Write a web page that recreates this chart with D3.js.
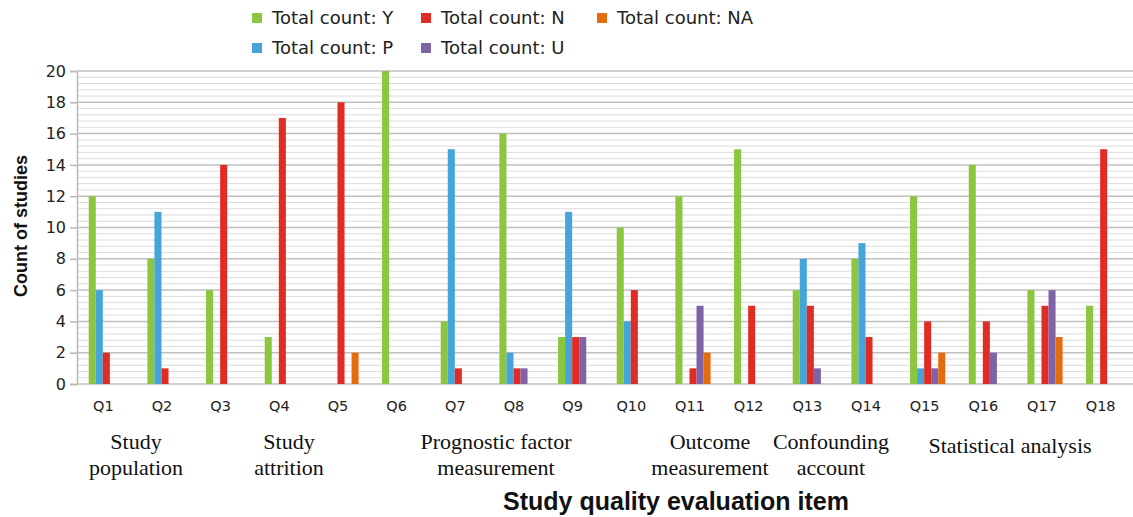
<!DOCTYPE html>
<html><head><meta charset="utf-8">
<script src="https://cdn.jsdelivr.net/npm/d3@7"></script>
<style>body{margin:0;background:#fff}svg{display:block}</style>
</head><body>
<script>
const categories = ["Q1","Q2","Q3","Q4","Q5","Q6","Q7","Q8","Q9","Q10","Q11","Q12","Q13","Q14","Q15","Q16","Q17","Q18"];
const seriesNames = ["Total count: Y","Total count: P","Total count: N","Total count: U","Total count: NA"];
const countY  = [12, 8, 6, 3, 0,20, 4,16, 3,10,12,15, 6, 8,12,14, 6, 5];
const countP  = [ 6,11, 0, 0, 0, 0,15, 2,11, 4, 0, 0, 8, 9, 1, 0, 0, 0];
const countN  = [ 2, 1,14,17,18, 0, 1, 1, 3, 6, 1, 5, 5, 3, 4, 4, 5,15];
const countU  = [ 0, 0, 0, 0, 0, 0, 0, 1, 3, 0, 5, 0, 1, 0, 1, 2, 6, 0];
const countNA = [ 0, 0, 0, 0, 2, 0, 0, 0, 0, 0, 2, 0, 0, 0, 2, 0, 3, 0];
const yTicks = [0,2,4,6,8,10,12,14,16,18,20];
const groupLabels = [
  ["Study","population"],
  ["Study","attrition"],
  ["Prognostic factor","measurement"],
  ["Outcome","measurement"],
  ["Confounding","account"],
  ["Statistical analysis"]
];
const colors = ["#8cc63f","#45a5d9","#e12b25","#8063a6","#e46c0f"];
const seriesData = [countY, countP, countN, countU, countNA];

(function(){
const W = 1133, H = 517;
const pL = 77, pR = 1133, pT = 71, pB = 384;
const groupLabelX = [136, 289, 496, 710, 831, 1010];
const svg = d3.select("body").append("svg").attr("width", W).attr("height", H);

const x = d3.scaleBand().domain(categories).range([pL, pR]).paddingInner(0.4).paddingOuter(0.2);
const xs = d3.scaleBand().domain(seriesNames).range([0, x.bandwidth()]);
const y = d3.scaleLinear().domain([0, 20]).range([pB, pT]);

// minor gridlines
const minor = d3.range(0, 20.001, 0.4).filter(v => Math.abs(v/2 - Math.round(v/2)) > 1e-6);
svg.append("g").selectAll("line").data(minor).join("line")
  .attr("x1", pL).attr("x2", pR)
  .attr("y1", d => y(d)).attr("y2", d => y(d))
  .attr("stroke", "#dcdcdc").attr("stroke-width", 1);

// y axis with major gridlines
const yAxis = svg.append("g").attr("transform", `translate(${pL},0)`)
  .call(d3.axisLeft(y).tickValues(yTicks).tickSize(7).tickPadding(4));
yAxis.select(".domain").attr("stroke", "#b8b8b8").attr("stroke-width", 1.5);
yAxis.selectAll(".tick line").attr("stroke", "#b8b8b8").attr("stroke-width", 1.5);
yAxis.selectAll(".tick text").attr("font-family", "DejaVu Sans").attr("font-size", 16).attr("fill", "#222");
svg.append("g").selectAll("line").data(yTicks).join("line")
  .attr("x1", pL).attr("x2", pR)
  .attr("y1", d => y(d)).attr("y2", d => y(d))
  .attr("stroke", "#c0c0c0").attr("stroke-width", 1.5);

// bars
const gs = svg.append("g").selectAll("g").data(seriesNames).join("g")
  .attr("fill", (d,i) => colors[i]);
gs.selectAll("rect").data((s,i) => categories.map((c,j) => ({c, s, v: seriesData[i][j]})).filter(d => d.v > 0))
  .join("rect")
  .attr("x", d => x(d.c) + xs(d.s))
  .attr("width", xs.bandwidth())
  .attr("y", d => y(d.v))
  .attr("height", d => y(0) - y(d.v));

// x axis
const xAxis = svg.append("g").attr("transform", `translate(0,${pB})`)
  .call(d3.axisBottom(x).tickSize(0).tickPadding(17));
xAxis.select(".domain").remove();
xAxis.selectAll(".tick text").attr("font-family", "DejaVu Sans").attr("font-size", 14.5).attr("fill", "#222")
  .attr("dx", -3);

// group labels
const gl = svg.append("g").attr("font-family", "Liberation Serif").attr("font-size", 22).attr("fill", "#111")
  .attr("text-anchor", "middle");
groupLabels.forEach((lines, gi) => {
  const t = gl.append("text").attr("transform", `translate(${groupLabelX[gi]},0)`);
  if (lines.length === 1) {
    t.append("tspan").attr("x", 0).attr("y", 453).text(lines[0]);
  } else {
    lines.forEach((ln, k) => t.append("tspan").attr("x", 0).attr("y", 449 + k*26).text(ln));
  }
});

// axis titles
svg.append("text").attr("x", 676).attr("y", 510).attr("text-anchor", "middle")
  .attr("font-family", "Liberation Sans").attr("font-weight", "bold").attr("font-size", 25).attr("fill", "#111")
  .text("Study quality evaluation item");
svg.append("text").attr("transform", "translate(27,226) rotate(-90)").attr("text-anchor", "middle")
  .attr("font-family", "Liberation Sans").attr("font-weight", "bold").attr("font-size", 18).attr("fill", "#111")
  .text("Count of studies");

// legend
const legendPos = [
  {i:0, x:252, y:18}, {i:2, x:421, y:18}, {i:4, x:597, y:18},
  {i:1, x:252, y:48}, {i:3, x:421, y:48}
];
const lg = svg.append("g");
legendPos.forEach(p => {
  lg.append("rect").attr("x", p.x).attr("y", p.y - 5).attr("width", 10).attr("height", 10).attr("fill", colors[p.i]);
  lg.append("text").attr("x", p.x + 20).attr("y", p.y).attr("dy", "0.36em")
    .attr("font-family", "DejaVu Sans").attr("font-size", 18).attr("fill", "#222").text(seriesNames[p.i]);
});
})();
</script>
</body></html>
